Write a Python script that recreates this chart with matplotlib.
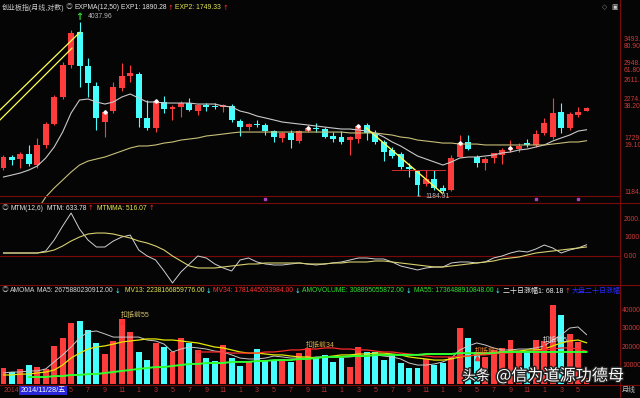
import numpy as np
import pandas as pd
import matplotlib
matplotlib.use("Agg")
import matplotlib.pyplot as plt
import matplotlib.patheffects as pe
from matplotlib import font_manager
from matplotlib.lines import Line2D
from matplotlib.transforms import blended_transform_factory

# monthly bars, ChiNext index
months = pd.period_range("2014-09", periods=70, freq="M")

opens = [1444, 1558, 1535, 1593, 1474, 1698, 1968, 2381, 2983, 3764,
         2962, 2580, 2000, 2150, 2540, 2760, 2810, 2054, 1913, 2300,
         2188, 2219, 2290, 2157, 2250, 2240, 2219, 2234, 2010, 1927,
         1975, 1955, 1873, 1784, 1848, 1746, 1880, 1913, 1900, 1809,
         1796, 1758, 1771, 1955, 1848, 1734, 1639, 1593, 1454, 1410,
         1290, 1340, 1254, 1236, 1560, 1734, 1560, 1495, 1549, 1582,
         1639, 1650, 1721, 1698, 1848, 1796, 2142, 1913, 2097, 2157]
highs = [1582, 1582, 1616, 1698, 1784, 1996, 2415, 3047, 3818, 4037.96,
         3134, 2640, 2173, 2646, 3026, 2983, 2840, 2331, 2331, 2398,
         2250, 2315, 2364, 2266, 2282, 2282, 2266, 2266, 2039, 1982,
         2025, 1982, 1887, 1860, 1887, 1887, 1955, 1982, 1927, 1860,
         1873, 1809, 1955, 1982, 1887, 1758, 1674, 1616, 1495, 1420,
         1423, 1423, 1280, 1582, 1821, 1821, 1582, 1560, 1605, 1662,
         1758, 1721, 1771, 1887, 2054, 2364, 2282, 2142, 2219, 2219]
lows = [1423, 1474, 1444, 1464, 1444, 1662, 1955, 2350, 2921, 2555,
        2381, 1887, 1796, 2120, 2480, 2646, 1927, 1887, 1860, 2127,
        2025, 2068, 2157, 2097, 2157, 2188, 2142, 1996, 1809, 1887,
        1927, 1821, 1734, 1734, 1662, 1721, 1860, 1860, 1780, 1734,
        1709, 1582, 1721, 1758, 1709, 1516, 1549, 1433, 1355, 1184.91,
        1271, 1236, 1210, 1227, 1560, 1639, 1454, 1423, 1495, 1485,
        1616, 1616, 1674, 1674, 1821, 1771, 1848, 1887, 2068, 2157]
closes = [1560, 1527, 1593, 1485, 1698, 1968, 2381, 2983, 3738, 2962,
          2628, 2054, 2142, 2555, 2760, 2820, 2054, 1913, 2315, 2188,
          2219, 2282, 2173, 2250, 2219, 2222, 2250, 2025, 1927, 1968,
          1961, 1873, 1796, 1848, 1758, 1873, 1913, 1900, 1796, 1771,
          1734, 1796, 1941, 1848, 1734, 1616, 1571, 1454, 1433, 1280,
          1336, 1254, 1227, 1549, 1721, 1650, 1495, 1538, 1605, 1639,
          1662, 1686, 1698, 1834, 1982, 2127, 1913, 2112, 2142, 2203]

exp1 = [1355, 1374, 1394, 1423, 1464, 1549, 1674, 1860, 2127, 2331,
        2348, 2299, 2266, 2299, 2381, 2432, 2364, 2299, 2299, 2282,
        2282, 2282, 2282, 2266, 2266, 2266, 2234, 2219, 2157, 2127,
        2082, 2054, 2025, 1996, 1982, 1968, 1955, 1941, 1927, 1913,
        1900, 1900, 1887, 1873, 1848, 1796, 1734, 1686, 1627, 1571,
        1538, 1506, 1474, 1506, 1549, 1560, 1560, 1571, 1582, 1605,
        1616, 1639, 1650, 1674, 1698, 1746, 1784, 1821, 1873, 1890.28]
exp2 = [np.nan, np.nan, np.nan, np.nan, 1074, 1177, 1254, 1326, 1403, 1474,
        1516, 1538, 1560, 1593, 1627, 1662, 1686, 1686, 1698, 1721,
        1734, 1758, 1771, 1784, 1809, 1821, 1834, 1848, 1860, 1860,
        1860, 1860, 1860, 1860, 1860, 1860, 1860, 1860, 1860, 1860,
        1860, 1848, 1848, 1848, 1848, 1834, 1821, 1796, 1784, 1758,
        1746, 1734, 1721, 1721, 1709, 1709, 1709, 1698, 1698, 1698,
        1698, 1698, 1698, 1698, 1698, 1709, 1721, 1734, 1734, 1749.33]

mtm = [189, 189, 189, 189, 189, 297, 891, 1647, 2349, 1485,
       891, 513, 513, 837, 1053, 1161, 351, 27, -189, -783,
       -1431, -837, -405, 27, -81, -405, -621, -783, -189, -81,
       -297, -405, -459, -459, -405, -351, -405, -459, -405, -351,
       -297, -189, -81, -81, -135, -135, -297, -513, -621, -729,
       -621, -567, -567, -351, -297, -297, -351, -297, -81, 27,
       189, 297, 243, 405, 621, 459, 189, 351, 459, 633.78]
mtmma = [189, 189, 189, 189, 189, 243, 351, 567, 837, 1053,
         1215, 1269, 1269, 1215, 1107, 999, 837, 729, 567, 351,
         27, -243, -513, -621, -621, -621, -567, -513, -459, -405,
         -405, -351, -351, -351, -351, -351, -405, -405, -405, -351,
         -351, -297, -297, -297, -243, -243, -297, -351, -405, -459,
         -513, -567, -567, -513, -459, -405, -351, -297, -243, -135,
         -81, -27, 81, 189, 243, 297, 351, 405, 459, 516.07]

# turnover, trillion yuan
amount = [0.85, 0.67, 0.80, 1.03, 0.94, 0.80, 2.07, 2.48, 3.30, 3.44,
          2.94, 2.21, 1.61, 2.35, 3.52, 2.84, 1.76, 1.30, 2.25, 2.03,
          1.76, 2.48, 2.25, 1.85, 1.40, 1.27, 2.12, 1.40, 0.98, 1.21,
          1.89, 1.30, 1.30, 1.34, 1.21, 1.70, 1.94, 1.40, 1.58, 1.21,
          1.40, 0.94, 2.00, 1.76, 1.76, 1.30, 1.61, 1.16, 0.89, 0.89,
          1.34, 1.03, 1.13, 1.45, 3.03, 2.52, 1.76, 1.48, 1.85, 1.94,
          2.39, 1.67, 1.76, 2.39, 2.35, 4.29, 3.75, 2.72, 2.30, 0.31]
ma5 = [0.60, 0.65, 0.65, 0.71, 0.71, 0.82, 1.20, 1.58, 2.01, 2.50,
       2.83, 2.88, 2.72, 2.55, 2.55, 2.55, 2.55, 2.39, 2.34, 2.17,
       1.74, 1.90, 2.01, 1.96, 1.90, 1.79, 1.74, 1.58, 1.41, 1.36,
       1.36, 1.41, 1.52, 1.47, 1.41, 1.41, 1.41, 1.47, 1.47, 1.47,
       1.47, 1.47, 1.52, 1.52, 1.58, 1.52, 1.47, 1.36, 1.14, 1.03,
       1.03, 1.09, 1.20, 1.41, 1.85, 2.07, 2.23, 2.12, 1.96, 1.85,
       1.85, 1.90, 1.90, 1.96, 2.07, 2.39, 2.66, 3.04, 3.10, 2.68]
mv13 = [0.49, 0.49, 0.54, 0.54, 0.60, 0.65, 0.76, 1.03, 1.41, 1.68,
        1.90, 2.01, 2.07, 2.17, 2.28, 2.34, 2.39, 2.45, 2.45, 2.39,
        2.39, 2.34, 2.28, 2.23, 2.12, 2.01, 1.96, 1.85, 1.74, 1.68,
        1.68, 1.63, 1.58, 1.58, 1.52, 1.47, 1.47, 1.41, 1.47, 1.52,
        1.58, 1.58, 1.63, 1.63, 1.68, 1.68, 1.63, 1.58, 1.47, 1.41,
        1.36, 1.30, 1.30, 1.36, 1.47, 1.52, 1.58, 1.63, 1.68, 1.74,
        1.79, 1.79, 1.85, 1.85, 1.90, 2.07, 2.23, 2.34, 2.39, 2.24]
mv34 = [np.nan] * 23 + [
        1.74, 1.74, 1.74, 1.74, 1.68, 1.68, 1.68, 1.68, 1.74, 1.74,
        1.79, 1.85, 1.85, 1.90, 1.90, 1.96, 1.96, 1.90, 1.90, 1.85,
        1.85, 1.79, 1.74, 1.74, 1.68, 1.63, 1.58, 1.52, 1.47, 1.47,
        1.47, 1.52, 1.52, 1.58, 1.58, 1.63, 1.68, 1.68, 1.74, 1.74,
        1.79, 1.85, 1.90, 1.96, 1.96, 1.90, 1.78]
ma55 = [np.nan] * 3 + [
        0.38, 0.38, 0.38, 0.43, 0.43, 0.49, 0.49, 0.54, 0.54, 0.60,
        0.65, 0.71, 0.76, 0.82, 0.87, 0.92, 0.92, 0.98, 1.03, 1.09,
        1.09, 1.14, 1.14, 1.14, 1.20, 1.20, 1.20, 1.25, 1.25, 1.30,
        1.30, 1.30, 1.36, 1.36, 1.41, 1.47, 1.47, 1.47, 1.52, 1.52,
        1.52, 1.58, 1.58, 1.58, 1.58, 1.58, 1.58, 1.63, 1.63, 1.63,
        1.63, 1.68, 1.68, 1.68, 1.68, 1.68, 1.74, 1.74, 1.74, 1.74,
        1.74, 1.74, 1.74, 1.74, 1.74, 1.74, 1.74]

fib_prices = [3493.03, 2948.10, 2611.44, 2274.78, 1729.84, 1184.91]
fib_pcts = ["80.90%", "61.80%", "", "38.20%", "19.10%", ""]
mtm_ticks = [2000, 1000, 0]
amount_ticks = [1, 2, 3, 4]

# hand-drawn lines on the chart: (bar positions, prices)
trend_up = [([-0.41, 9.05], [2173, 3760]), ([-0.41, 8.1], [2026, 3360])]
trend_down = ([42.9, 51.9], [1916, 1210])
resist = ([46, 52.2], [1424, 1424])

signal_idx = [12, 18, 36, 42, 54, 60]
event_idx = [31, 63, 68]
kd_idx = [14, 36, 56, 64]
kd_text = ["扣抵前55", "扣抵前34", "扣抵前13", "扣抵前5"]
kd_level = [3.37, 1.74, 1.41, 2.01]
kd_color = ["#d4c470", "#e0b048", "#ff8c30", "#e0e0e0"]

# ---------------------------------------------------------------
BG = "#050505"
RED = "#ff3c3c"
CYAN = "#46ffff"
GRID = "#7a0a0a"
AXRED = "#cc3a3a"
UPC = "#ff3030"
W, H = 640, 398

names = {f.name for f in font_manager.fontManager.ttflist}
narrow = "Liberation Sans Narrow" in names
LATIN = "Liberation Sans Narrow" if narrow else "Liberation Sans"
FS = 5.8 if narrow else 4.9
plt.rcParams["font.family"] = [LATIN, "Noto Sans CJK SC", "DejaVu Sans"]

fig = plt.figure(figsize=(6.4, 3.98), dpi=100, facecolor=BG)
renderer = fig.canvas.get_renderer()


def px_axes(x0, y0, x1, y1):
    a = fig.add_axes([x0 / W, 1 - y1 / H, (x1 - x0) / W, (y1 - y0) / H])
    a.set_facecolor("none")
    a.axis("off")
    a.set_xlim(-0.414, 72.96)
    return a


def put(x, y, s, color, size=None, **kw):
    return fig.text(x / W, 1 - y / H, s, color=color, fontsize=size or FS,
                    va="center", ha="left", **kw)


def header(y, pieces):
    # pieces: (target x, text, colour, size); pushed right if the previous one runs long
    cur = 0
    for x, s, col, size in pieces:
        kw = {"family": "DejaVu Sans"} if s in ("↑", "↓") else {}
        t = put(max(x, cur), y, s, col, size, **kw)
        cur = t.get_window_extent(renderer).x1 + 1.5


idx = np.arange(len(closes))
o = np.array(opens, float)
c = np.array(closes, float)
cols = np.where(c >= o, RED, CYAN)

# ---- main panel: candles + EXPMA ----
ax = px_axes(0, 12, 620, 203)
ax.set_yscale("log")
ax.set_ylim(1128, 4335)
ax.vlines(idx, lows, highs, colors=cols, lw=0.8)
lo = np.minimum(o, c)
hi = np.maximum(np.maximum(o, c), lo * 1.004)
ax.bar(idx, hi - lo, bottom=lo, width=0.7, color=cols, linewidth=0)
ax.plot(idx, exp1, color="#c8c8c8", lw=0.8)
ax.plot(idx, exp2, color="#c8bf78", lw=0.8)
for xs, ys in trend_up:
    ax.plot(xs, ys, color="#ffff55", lw=0.9)
ax.plot(*trend_down, color="#ffff55", lw=1.0)
ax.plot(*resist, color="#d03030", lw=0.7)
ax.plot(signal_idx, [closes[i] for i in signal_idx], "D", ms=1.8, color="white")
ax.plot(event_idx, [1160] * len(event_idx), "s", ms=1.6, color="#b040c0")
ax.axhline(fib_prices[-1], color=GRID, lw=0.8)

pk = int(np.argmax(highs))
ax.text(pk, highs[pk], "↑", color="#30e030", fontsize=7, fontweight="bold",
        ha="center", va="bottom", family="DejaVu Sans")
ax.annotate(f"{highs[pk]:.2f}", xy=(pk, highs[pk]), xytext=(6, 4),
            textcoords="offset points", color="#b8b8b8", fontsize=FS, va="center")
lw_i = int(np.argmin(lows))
ax.annotate(f"{lows[lw_i]:.2f}", xy=(lw_i, lows[lw_i]), xytext=(6, 0),
            textcoords="offset points", color="#b8b8b8", fontsize=FS, va="center",
            arrowprops=dict(arrowstyle="-", color="#b8b8b8", lw=0.6))

ytr = ax.get_yaxis_transform()
for p, pct in zip(fib_prices, fib_pcts):
    ax.text(624 / 620, p, f"{p:.2f}", color=AXRED, fontsize=FS, va="bottom",
            transform=ytr, clip_on=False)
    if pct:
        ax.text(624 / 620, p, pct, color=AXRED, fontsize=FS, va="top",
                transform=ytr, clip_on=False)

# ---- MTM panel ----
am = px_axes(0, 203, 620, 285)
am.set_ylim(-1541, 2892)
am.axhline(0, color=GRID, lw=0.8)
am.plot(idx, mtm, color="#d0d0d0", lw=0.7)
am.plot(idx, mtmma, color="#d8d070", lw=0.8)
ytr = am.get_yaxis_transform()
for v in mtm_ticks:
    am.text(624 / 620, v, f"{v:.2f}", color=AXRED, fontsize=FS, va="center",
            transform=ytr, clip_on=False)

# ---- turnover panel ----
av = px_axes(0, 285, 620, 384)
av.set_ylim(0, 5.38)
av.bar(idx, amount, width=0.7, color=cols, linewidth=0)
av.plot(idx, ma5, color="#c8c8c8", lw=0.7)
av.plot(idx, mv13, color="#e6e600", lw=0.9)
av.plot(idx, mv34, color="#ff2a2a", lw=0.9)
av.plot(idx, ma55, color="#30ff30", lw=1.4)
for i, t, lv, col in zip(kd_idx, kd_text, kd_level, kd_color):
    av.plot(i, lv, "^", ms=3, color="#ff3030")
    av.annotate(t, xy=(i, lv), xytext=(-1, 5), textcoords="offset points",
                color=col, fontsize=5, va="center")
ytr = av.get_yaxis_transform()
for v in amount_ticks:
    av.text(622 / 620, v, f"{int(v * 1e12)}", color=AXRED, fontsize=FS,
            va="center", transform=ytr, clip_on=False)

# ---- frame lines ----
for yy in (203, 285, 385):
    fig.add_artist(Line2D([0, 1], [1 - yy / H] * 2, transform=fig.transFigure,
                          color=GRID, lw=0.8))
fig.add_artist(Line2D([620 / W] * 2, [0, 1], transform=fig.transFigure,
                      color=GRID, lw=0.8))

# ---- headers ----
header(7.5, [(2, "创业板指(月线,对数)", "#c8c8c8", 5),
             (64, "◎", "#a0a0a0", FS),
             (73, "EXPMA(12,50)", "#e0e0e0", FS),
             (120, "EXP1: 1890.28", "#e8e8e8", FS),
             (0, "↑", UPC, FS),
             (172, "EXP2: 1749.33", "#e6e650", FS),
             (0, "↑", UPC, FS)])
put(602, 7.5, "◇", "#909090", family="DejaVu Sans")
put(611, 7.5, "▣", "#d0d0d0", family="DejaVu Sans")

header(208, [(2, "◎", "#a0a0a0", FS),
             (10, "MTM(12,6)", "#e0e0e0", FS),
             (47, "MTM: 633.78", "#e8e8e8", FS),
             (0, "↑", UPC, FS),
             (97, "MTMMA: 516.07", "#e6e650", FS),
             (0, "↑", UPC, FS)])

header(291, [(2, "◎", "#a0a0a0", FS),
             (10, "AMOMA", "#d0d0d0", FS),
             (37, "MA5: 2675880230912.00", "#d8d8d8", FS),
             (0, "↓", CYAN, FS),
             (125, "MV13: 2238166859776.00", "#e6e650", FS),
             (0, "↓", CYAN, FS),
             (213, "MV34: 1781445033984.00", UPC, FS),
             (0, "↓", CYAN, FS),
             (302, "AMOVOLUME: 308895055872.00", "#30e030", FS),
             (0, "↓", CYAN, FS),
             (414, "MA55: 1736488910848.00", "#30e030", FS),
             (0, "↓", CYAN, FS),
             (503, "二十日涨幅1: 68.18", "#e8e8e8", 5),
             (0, "↑", UPC, FS),
             (568, "大盘二十日涨幅", "#2a2aff", 5)])

# ---- date strip ----
dtr = blended_transform_factory(av.transData, fig.transFigure)
ydate = 1 - 390.5 / H
av.text(0, ydate, str(months[0].year), color="#b43232", fontsize=5,
        va="center", ha="left", transform=dtr, clip_on=False)
for i, m in enumerate(months):
    if m.month % 2 == 1 and i >= 8:
        av.text(i, ydate, str(m.month), color="#b43232", fontsize=5,
                va="center", ha="center", transform=dtr, clip_on=False)
av.text(2, ydate, "2014/11/28/五", color="white", fontsize=5.2, va="center",
        ha="left", transform=dtr, clip_on=False,
        bbox=dict(boxstyle="square,pad=0.15", fc="#2626d8", ec="none"))
put(622, 390.5, "月线", "#c0c0c0", 5)

# ---- watermark ----
shadow = [pe.withStroke(linewidth=2, foreground="#202020")]
fig.text(462 / W, 1 - 376 / H, "头条", color="white", fontsize=10,
         va="center", family="Noto Sans CJK SC", path_effects=shadow)
fig.text(496 / W, 1 - 376 / H, "@信为道源功德母", color="white", fontsize=11.6,
         va="center", family="Noto Sans CJK SC", path_effects=shadow)

fig.savefig("out.png", dpi=100, facecolor=BG)
plt.close(fig)
